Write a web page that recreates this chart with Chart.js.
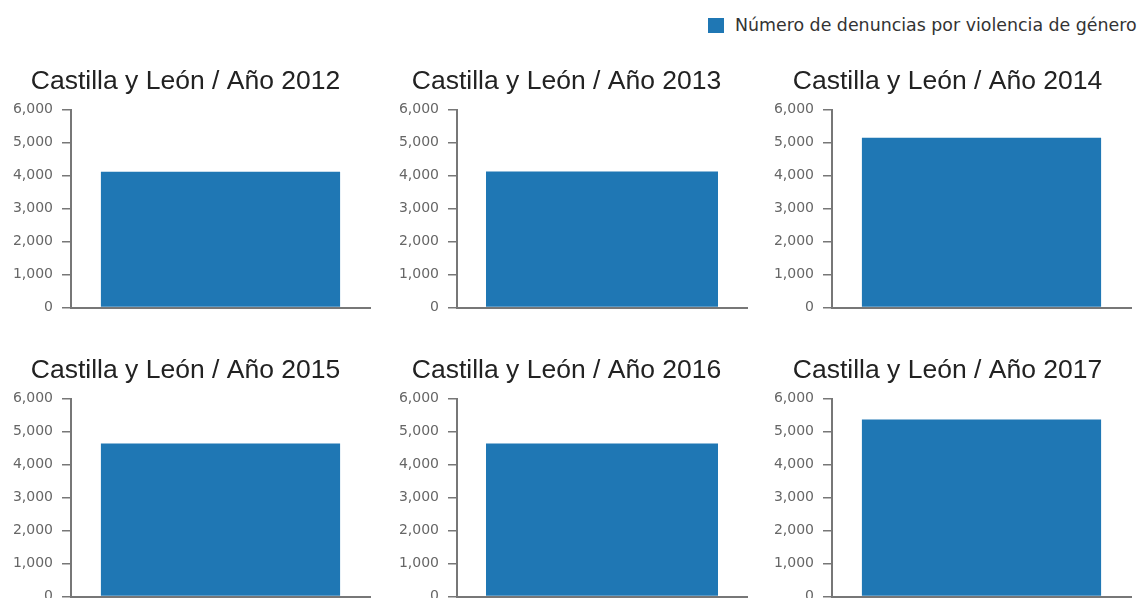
<!DOCTYPE html>
<html>
<head>
<meta charset="utf-8">
<script src="https://cdn.jsdelivr.net/npm/chart.js@4"></script>
<style>
  body { margin: 0; background: #fff; overflow: hidden; }
  #wrap { position: relative; width: 1139px; height: 598px; overflow: hidden; }
  canvas { position: absolute; }
  #legend { position: absolute; left: 708px; top: 18px; height: 15px; display: flex; align-items: center;
            font-family: "DejaVu Sans", Verdana, sans-serif; font-size: 17.4px; color: #333; white-space: nowrap; }
  #legend span.box { display: inline-block; width: 16px; height: 15px; background: #1f77b4; margin-right: 11px; }
  #legend span.txt { line-height: 15px; }
</style>
</head>
<body>
<div id="wrap">
  <div id="legend"><span class="box"></span><span class="txt" id="legendText"></span></div>
</div>
<script>
// ---- data ----
var region = 'Castilla y León';
var years = ['2012', '2013', '2014', '2015', '2016', '2017'];
var denuncias = [4120, 4130, 5150, 4640, 4645, 5370];
var seriesName = 'Número de denuncias por violencia de género';
var yMin = 0;
var yMax = 6000;
var yStep = 1000;

// ---- layout of the 2x3 grid ----
var cols = [
    { left: 1, width: 371, axisW: 70 },
    { left: 386, width: 363, axisW: 71 },
    { left: 764, width: 369, axisW: 68 }
];
var rowTops = [40, 329];
var panelH = 285;

document.getElementById('legendText').textContent = seriesName;

var wrap = document.getElementById('wrap');

years.forEach(function (year, i) {
    var col = cols[i % 3];
    var top = rowTops[Math.floor(i / 3)];

    var cv = document.createElement('canvas');
    cv.width = col.width;
    cv.height = panelH;
    cv.style.left = col.left + 'px';
    cv.style.top = top + 'px';
    wrap.appendChild(cv);

    new Chart(cv.getContext('2d'), {
        type: 'bar',
        data: {
            labels: [region],
            datasets: [{
                label: seriesName,
                data: [denuncias[i]],
                backgroundColor: '#1f77b4',
                borderWidth: 0,
                barPercentage: 0.8,
                categoryPercentage: 1
            }]
        },
        options: {
            responsive: false,
            animation: false,
            layout: { padding: { left: 0, right: 2, top: 0, bottom: 0 } },
            plugins: {
                legend: { display: false },
                tooltip: { enabled: false },
                title: {
                    display: true,
                    text: region + ' / Año ' + year,
                    color: '#222',
                    font: { family: '"Liberation Sans", Arial, sans-serif', size: 26.5, weight: 'normal', lineHeight: 1.2 },
                    padding: { top: 25.6, bottom: 12.3 }
                }
            },
            scales: {
                x: {
                    grid: { display: false },
                    ticks: { display: false },
                    border: { display: true, color: '#777', width: 2 },
                    afterFit: function (s) { s.height = 4; }
                },
                y: {
                    min: yMin,
                    max: yMax,
                    ticks: {
                        stepSize: yStep,
                        padding: 9,
                        color: '#666',
                        font: { family: '"DejaVu Sans", Verdana, sans-serif', size: 14 },
                        callback: function (v) { return v.toLocaleString('en-US'); }
                    },
                    grid: { display: true, drawOnChartArea: false, drawTicks: true, tickLength: 9, color: '#777', lineWidth: 1.5 },
                    border: { display: true, color: '#777', width: 2 },
                    afterFit: function (s) { s.width = col.axisW; }
                }
            }
        }
    });
});
</script>
</body>
</html>
